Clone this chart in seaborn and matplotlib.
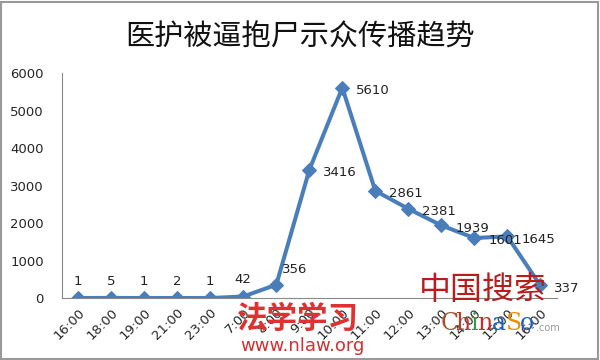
import numpy as np
import pandas as pd
import seaborn as sns
import matplotlib.pyplot as plt
from matplotlib.patches import Rectangle

# 医护被逼抱尸示众 传播趋势
times = ["16:00", "18:00", "19:00", "21:00", "23:00", "7:00", "8:00", "9:00",
         "10:00", "11:00", "12:00", "13:00", "14:00", "15:00", "16:00"]
counts = [1, 5, 1, 2, 1, 42, 356, 3416, 5610, 2861, 2381, 1939, 1601, 1645, 337]
title = "医护被逼抱尸示众传播趋势"

df = pd.DataFrame({"pos": np.arange(len(times)), "count": counts})

sns.set_style("white")
plt.rcParams['font.family'] = ['Noto Sans CJK SC', 'DejaVu Sans']

fig = plt.figure(figsize=(6, 3.6), dpi=100)
ax = fig.add_axes([0.103, 0.172, 0.825, 0.625])

blue = "#4a7ebb"
sns.lineplot(data=df, x="pos", y="count", ax=ax, color=blue, linewidth=2.9,
             marker="D", markersize=7, markeredgecolor=blue)

# data labels
for i, v in enumerate(counts):
    if i < 6:
        off, ha = (0, 12), "center"
    elif i == 6:
        off, ha = (4, 11), "left"
    else:
        off, ha = (10, -2), "left"
    ax.annotate(str(v), (i, v), xytext=off, textcoords="offset points",
                ha=ha, va="center", fontsize=9.5, color="#222222",
                family=["DejaVu Sans"])

ax.set_xlim(-0.5, len(times) - 0.5)
ax.set_ylim(0, 6000)
ax.set_yticks(range(0, 6001, 1000))
ax.set_xticks(range(len(times)))
ax.set_xticklabels(times, rotation=45, ha="right", rotation_mode="anchor",
                   fontsize=9.5, family=["DejaVu Sans"])
ax.tick_params(axis="x", length=0, pad=6)
ax.set_xticks(np.arange(-0.5, len(times), 1), minor=True)
ax.tick_params(axis="x", which="minor", length=4, color="#888888", direction="out")
ax.tick_params(axis="y", length=5, color="#888888", direction="out", labelsize=9.5,
               pad=8)
for lab in ax.get_yticklabels():
    lab.set_family(["DejaVu Sans"])
ax.set_xlabel("")
ax.set_ylabel("")
for s in ["top", "right"]:
    ax.spines[s].set_visible(False)
ax.spines["left"].set_color("#888888")
ax.spines["bottom"].set_color("#888888")

fig.text(0.5, 0.895, title, ha="center", va="center", fontsize=21,
         fontweight="medium", color="#111111")

# watermarks
fig.text(0.395, 0.115, "法学学习", fontsize=22, fontweight="bold", color="#e03030",
         ha="left", va="center")
fig.text(0.4, 0.04, "www.nlaw.org", fontsize=13, color="#d03030", ha="left",
         va="center", family=["DejaVu Sans"])
fig.text(0.698, 0.195, "中国搜索", fontsize=23, color="#b81c1c", ha="left", va="center")
letters = [("C", "#a0522d"), ("h", "#c0392b"), ("i", "#2e9e44"), ("n", "#d62728"),
           ("a", "#1f5fbf"), ("S", "#f08c00"), ("o", "#1f5fbf")]
x0 = 0.735
for ch, c in letters:
    t = fig.text(x0, 0.1, ch, fontsize=17, color=c, ha="left", va="center",
                 family=["DejaVu Serif"])
    x0 += 0.024 if ch not in "i" else 0.012
fig.text(x0 + 0.003, 0.09, ".com", fontsize=7, color="#999999", ha="left",
         va="center", family=["DejaVu Sans"])

fig.patches.append(Rectangle((0.002, 0.003), 0.995, 0.992, transform=fig.transFigure,
                             fill=False, edgecolor="#999999", linewidth=1.5))

fig.savefig("out.png", dpi=100)
